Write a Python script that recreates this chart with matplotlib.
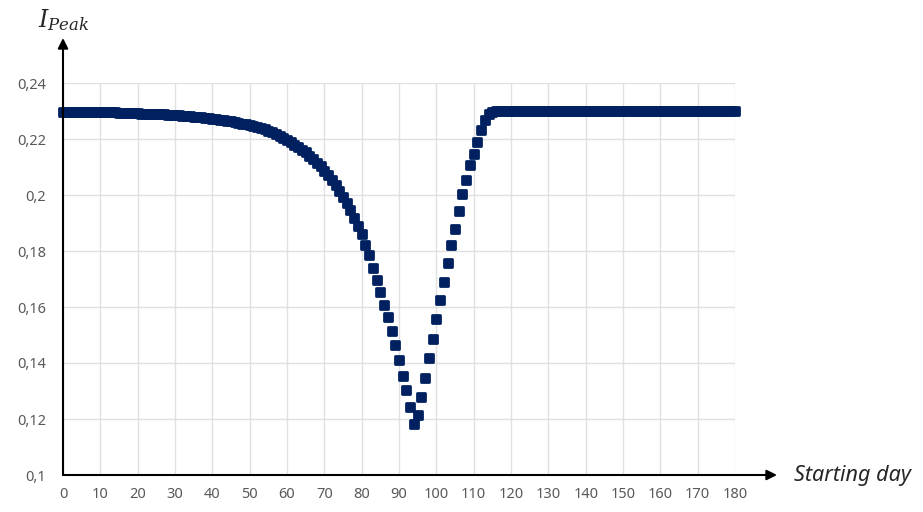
import matplotlib
matplotlib.use("Agg")
import matplotlib.pyplot as plt
from matplotlib.markers import MarkerStyle

# starting day 0..180
days = list(range(0, 181))

# peak infected fraction, one value per day
i_peak = [
    0.2298, 0.2298, 0.2298, 0.2298, 0.2298, 0.2297, 0.2297, 0.2297, 0.2297, 0.2297,  # 0-9
    0.2296, 0.2296, 0.2296, 0.2295, 0.2295, 0.2294, 0.2294, 0.2293, 0.2293, 0.2292,  # 10-19
    0.2292, 0.2291, 0.2291, 0.2290, 0.2290, 0.2289, 0.2289, 0.2288, 0.2287, 0.2286,  # 20-29
    0.2285, 0.2284, 0.2283, 0.2282, 0.2281, 0.2280, 0.2279, 0.2277, 0.2276, 0.2274,  # 30-39
    0.2273, 0.2271, 0.2269, 0.2267, 0.2265, 0.2263, 0.2261, 0.2258, 0.2255, 0.2252,  # 40-49
    0.2249, 0.2246, 0.2242, 0.2238, 0.2234, 0.2229, 0.2224, 0.2218, 0.2212, 0.2204,  # 50-59
    0.2195, 0.2188, 0.2180, 0.2171, 0.2162, 0.2152, 0.2141, 0.2129, 0.2116, 0.2102,  # 60-69
    0.2087, 0.2071, 0.2054, 0.2035, 0.2015, 0.1993, 0.1970, 0.1945, 0.1918, 0.1890,  # 70-79
    0.1860, 0.1823, 0.1785, 0.1740, 0.1696, 0.1655, 0.1607, 0.1565, 0.1514, 0.1464,  # 80-89
    0.1411, 0.1354, 0.1304, 0.1244, 0.1182, 0.1214, 0.1280, 0.1348, 0.1417, 0.1486,  # 90-99
    0.1557, 0.1625, 0.1688, 0.1756, 0.1821, 0.1879, 0.1943, 0.2002, 0.2054, 0.2107,  # 100-109
    0.2146, 0.2190, 0.2232, 0.2268, 0.2290, 0.2298, 0.2300, 0.2300, 0.2300, 0.2300,  # 110-119
    0.2300, 0.2300, 0.2300, 0.2300, 0.2300, 0.2300, 0.2300, 0.2300, 0.2300, 0.2300,  # 120-129
    0.2300, 0.2300, 0.2300, 0.2300, 0.2300, 0.2300, 0.2300, 0.2300, 0.2300, 0.2300,  # 130-139
    0.2300, 0.2300, 0.2300, 0.2300, 0.2300, 0.2300, 0.2300, 0.2300, 0.2300, 0.2300,  # 140-149
    0.2300, 0.2300, 0.2300, 0.2300, 0.2300, 0.2300, 0.2300, 0.2300, 0.2300, 0.2300,  # 150-159
    0.2300, 0.2300, 0.2300, 0.2300, 0.2300, 0.2300, 0.2300, 0.2300, 0.2300, 0.2300,  # 160-169
    0.2300, 0.2300, 0.2300, 0.2300, 0.2300, 0.2300, 0.2300, 0.2300, 0.2300, 0.2300,  # 170-179
    0.2300,                                                                          # 180
]

x_ticks = list(range(0, 181, 10))
y_ticks = [0.10, 0.12, 0.14, 0.16, 0.18, 0.20, 0.22, 0.24]
y_tick_labels = ["0,1", "0,12", "0,14", "0,16", "0,18", "0,2", "0,22", "0,24"]

plt.rcParams["font.family"] = ["Noto Sans", "DejaVu Sans"]
plt.rcParams["mathtext.fontset"] = "dejavuserif"

fig = plt.figure(figsize=(9.23, 5.12), dpi=100)
ax = fig.add_axes([63 / 923, 37 / 512, 672 / 923, 392 / 512])

marker = MarkerStyle("s", joinstyle="round")
ax.plot(days, i_peak, linestyle="none", marker=marker, markersize=5.4,
        markerfacecolor="#002060", markeredgecolor="#002060",
        markeredgewidth=2, clip_on=False, zorder=3)

ax.set_xlim(0, 180)
ax.set_ylim(0.1, 0.24)
ax.set_xticks(x_ticks)
ax.set_xticklabels([str(v) for v in x_ticks])
ax.set_yticks(y_ticks)
ax.set_yticklabels(y_tick_labels)
ax.tick_params(length=0, labelsize=10.5, labelcolor="#595959")
ax.tick_params(axis="x", pad=9)
ax.tick_params(axis="y", pad=12)
ax.grid(True, color="#e0e0e0", linewidth=1)
ax.set_axisbelow(True)
for s in ax.spines.values():
    s.set_visible(False)

# axis arrows
arrow = dict(arrowstyle="-|>,head_length=0.6,head_width=0.3",
             color="black", lw=1.5, shrinkA=0, shrinkB=0)
ax.annotate("", xy=((777 - 63) / 672, 0), xytext=(0, 0),
            xycoords="axes fraction", arrowprops=arrow)
ax.annotate("", xy=(0, (475 - 38) / 392), xytext=(0, 0),
            xycoords="axes fraction", arrowprops=arrow)

fig.text(794 / 923, 1 - 476 / 512, "Starting day", style="italic", fontsize=15.5,
         color="#262626", ha="left", va="center")
fig.text(38 / 923, 1 - 20 / 512, r"$I_{Peak}$", fontsize=17, color="#262626",
         ha="left", va="center")

fig.savefig("out.png", dpi=100)
